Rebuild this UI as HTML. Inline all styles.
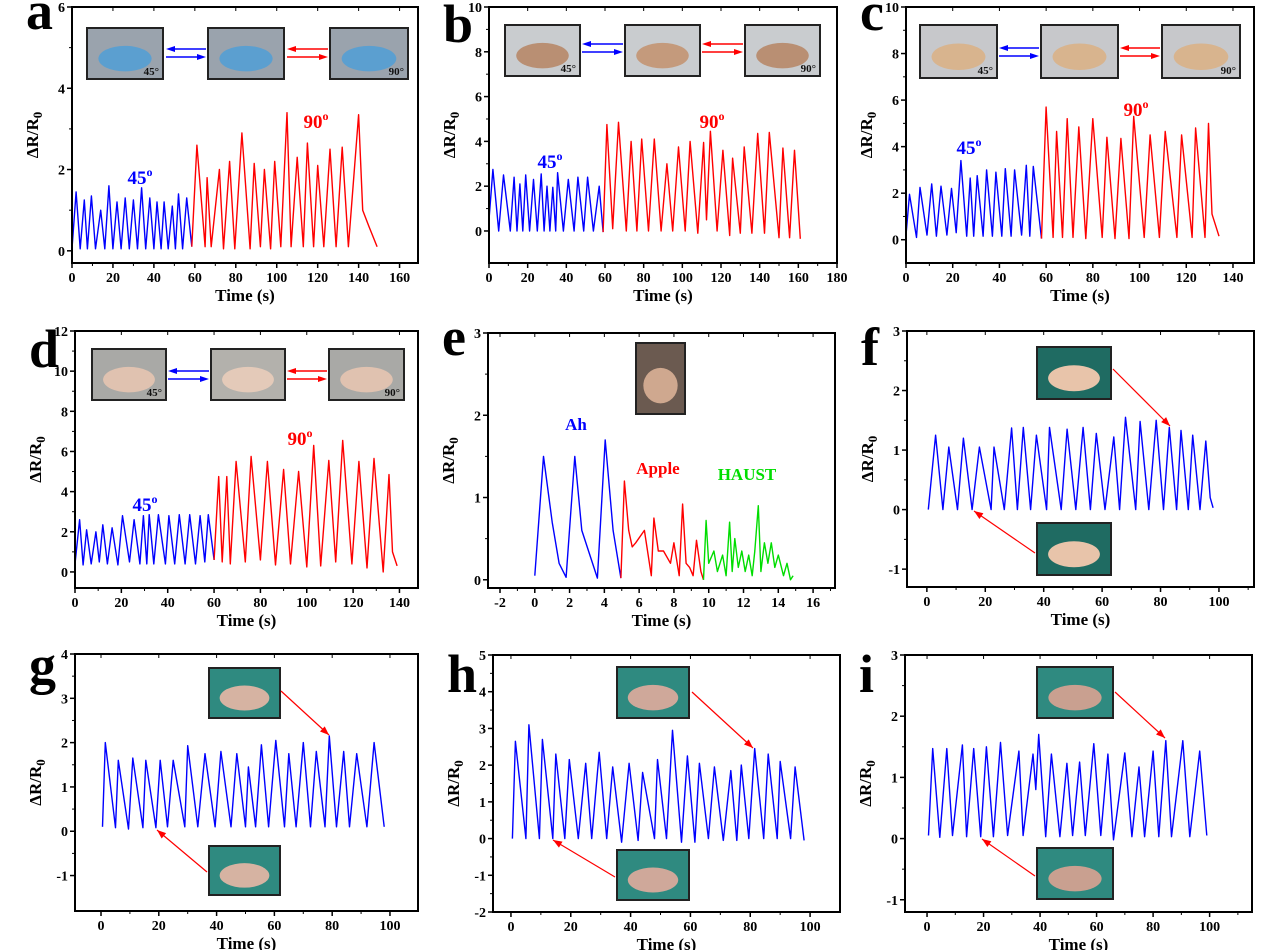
<!DOCTYPE html>
<html><head><meta charset="utf-8"><style>
html,body{margin:0;padding:0;background:#fff;}
svg{display:block;font-family:"Liberation Serif",serif;font-weight:bold;}
</style></head><body>
<svg id="fig" width="1269" height="950" viewBox="0 0 1269 950"></svg>
<script>
// ---- data arrays ----
const aBlueT=[0,2,4,6,7.5,9.5,11.5,14,16,18,20,22,24,26,28,30,32,34,36,38,40,41.5,43.5,45,47,49,50.5,52,54,56,58.5];
const aBlueV=[0.05,1.45,0.05,1.25,0.05,1.35,0.05,1.0,0.05,1.6,0.05,1.2,0.05,1.3,0.05,1.25,0.05,1.55,0.05,1.3,0.05,1.2,0.05,1.2,0.05,1.1,0.05,1.4,0.05,1.3,0.1];
const aRedT=[58.5,61,65,66,68,72,74,77,79.5,83,87,89,92,94,97,99,102,105,107,110,113,115,118,120,123,126,129,132,135,140,142,145,149];
const aRedV=[0.1,2.6,0.1,1.8,0.1,2.0,0.05,2.2,0.05,2.9,0.05,2.15,0.1,2.0,0.05,2.2,0.1,3.4,0.1,2.3,0.1,2.65,0.1,2.1,0.1,2.5,0.1,2.55,0.1,3.35,1.0,0.6,0.1];
const bBlueT=[0,2,5,7.5,11,13,14.5,16,17.5,19,21,23,25,27,28.5,30,31.5,33,34.5,35.5,38.5,41,44,46,49,51,54,57,59];
const bBlueV=[0.5,2.75,0,2.5,0,2.4,0,2.1,0,2.5,0,2.3,0,2.55,0,2.0,0,1.95,0,2.6,0,2.3,0,2.4,0,2.4,0,2.0,-0.05];
const bRedT=[59,61,64,67,71,73.5,76.5,79,82.5,85.5,89,92,95,98,101.5,104,108,111,112.5,114.5,118,121,124.5,126,130,132,136,139,142.5,145,150,152,155.5,158,161];
const bRedV=[-0.05,4.75,0.1,4.85,0,4.0,0,4.1,0,4.1,0,3.0,0,3.75,0,4.0,-0.1,3.95,0.5,4.45,0,3.6,-0.2,3.25,-0.1,3.75,-0.1,4.35,-0.1,4.4,-0.3,3.7,-0.3,3.6,-0.35];
const cBlueT=[0,1.5,4.5,6,9,11,13,15,17.5,19.5,21.5,23.5,26,27.5,29,30.5,33,34.5,37,38.5,41,42.5,45,46.5,49.5,51.5,53,54.5,58];
const cBlueV=[0.2,1.95,0.1,2.25,0.2,2.4,0.15,2.3,0.2,2.2,0.3,3.4,0.15,2.65,0.15,2.75,0.15,3.0,0.15,2.9,0.15,3.05,0.15,3.0,0.2,3.2,0.15,3.15,0.05];
const cRedT=[58,60,63,64.5,67,69,71.5,74,77,80,84,86,89.5,92,95.5,97.5,102,104.5,108.5,111,116,118,122.5,124,128,129.5,131,134];
const cRedV=[0.05,5.7,0.1,4.65,0.1,5.2,0.1,4.85,0.05,5.2,0.1,4.4,0.05,4.35,0.05,5.3,0.1,4.5,0.1,4.65,0.1,4.5,0.1,4.8,0.1,5.0,1.1,0.15];
const dBlueT=[0,2,3.5,5,7,9,10.5,12,14,16,18.5,20.5,23.5,25.5,28,29.5,31,32,34,36,39,40.5,43,45,47.5,49.5,52,54,56,57.5,60];
const dBlueV=[0.4,2.6,0.35,2.1,0.4,2.0,0.5,2.35,0.4,2.2,0.35,2.8,0.5,2.6,0.4,2.8,0.4,2.85,0.4,2.85,0.4,2.8,0.4,2.85,0.4,2.85,0.4,2.8,0.5,2.85,0.6];
const dRedT=[60,62,63.5,65.5,67,69.5,73.5,76,80,83,86.5,90,93,96.5,100,103,106,109.5,112.5,115.5,119.5,122.5,126,129,133,135.5,137,139];
const dRedV=[0.6,4.75,0.5,4.75,0.4,5.5,0.5,5.75,0.6,5.5,0.35,5.1,0.4,5.0,0.25,6.3,0.3,5.55,0.5,6.55,0.4,5.5,0.2,5.65,0.0,4.85,1.0,0.3];
const eAhT=[0,0.5,1.0,1.4,1.8,2.3,2.7,3.6,4.05,4.5,4.95];
const eAhV=[0.05,1.5,0.7,0.2,0.03,1.5,0.6,0.02,1.7,0.6,0.02];
const eAppleT=[4.95,5.15,5.4,5.6,5.8,6.3,6.7,6.85,7.1,7.4,7.8,8.0,8.3,8.5,8.7,8.9,9.1,9.3,9.55,9.7];
const eAppleV=[0.02,1.2,0.6,0.4,0.45,0.6,0.05,0.75,0.35,0.35,0.2,0.45,0.05,0.92,0.2,0.15,0.05,0.48,0.1,0.0];
const eHaustT=[9.7,9.85,10.0,10.3,10.5,10.8,11.0,11.2,11.35,11.5,11.7,11.9,12.1,12.3,12.5,12.65,12.85,13.0,13.2,13.4,13.6,13.8,14.0,14.3,14.5,14.7,14.85];
const eHaustV=[0.0,0.72,0.2,0.35,0.1,0.3,0.05,0.7,0.1,0.5,0.15,0.35,0.1,0.3,0.05,0.35,0.9,0.1,0.45,0.2,0.45,0.15,0.3,0.05,0.2,0.0,0.05];
const fT=[0.5,3,5.5,7.5,10.5,12.5,15.5,18,22,23,26.5,29,31,33,35.5,37.5,41,42,46,48,51,53.5,56,58,61,64,66,68,71.5,73,76,78.5,81,83,85.5,87,89.5,91,93.5,95.5,97,98];
const fV=[0,1.25,0,1.05,0,1.2,0,1.05,0,1.05,0,1.37,0,1.38,0,1.25,0,1.38,0,1.35,0,1.38,0,1.28,0,1.22,0,1.55,0,1.48,0,1.5,0,1.38,0,1.33,0,1.25,0,1.15,0.2,0.03];
const gT=[0.5,1.5,5,6,9.5,11,14.5,15.5,19,20.5,23,25,29,30,33.5,36,39.5,41.5,45,47,50,51,53.5,55.5,58,60.5,63.5,65,67.5,70,72.5,74.5,77.5,79,81.5,84,86,88.5,92,94.5,98];
const gV=[0.1,2.0,0.08,1.6,0.05,1.65,0.08,1.6,0.08,1.6,0.1,1.6,0.1,1.93,0.1,1.75,0.1,1.8,0.1,1.75,0.1,1.45,0.1,1.95,0.1,2.05,0.1,1.75,0.1,2.0,0.1,1.8,0.1,2.15,0.1,1.8,0.1,1.75,0.1,2.0,0.1];
const hT=[0.5,1.5,5,6,9.5,10.5,14,15,18,19.5,22.5,25,27,29.5,32,34,37,39.5,42.5,44,48,49,52,54,57,59,61.5,63,66,68,71,73.5,75.5,77,79.5,81.5,84.5,86,89,90,93.5,95,98];
const hV=[0,2.65,0,3.1,0,2.7,0,2.3,0,2.15,0,2.05,0,2.35,0,1.95,-0.1,2.05,-0.05,1.8,0,2.15,0,2.95,-0.1,2.25,-0.1,2.05,0,1.95,-0.05,1.85,-0.05,2.0,0,2.45,0,2.3,0,2.1,0,1.95,-0.05];
const iT=[0.5,2,4.5,7,9,12.5,14,16.5,19,21,23.5,26,28.5,32.5,34,37.5,38.5,39.5,42,44,47,49.5,51.5,54,56,59,61.5,64,66,70,72.5,75,77,80,82,84.5,86.5,90.5,93,96.5,99];
const iV=[0.05,1.47,0.02,1.47,0.05,1.53,0.03,1.47,0.03,1.5,0.03,1.57,0.05,1.43,0.05,1.38,0.8,1.7,0.03,1.38,0.03,1.23,0.05,1.25,0.05,1.55,0.05,1.38,-0.02,1.4,0.03,1.17,0.03,1.43,0.03,1.6,0.03,1.6,0.03,1.43,0.05];
const xTicksA=[0,20,40,60,80,100,120,140,160];
const xTicksB=[0,20,40,60,80,100,120,140,160,180];
const xTicksC=[0,20,40,60,80,100,120,140];
const xTicksE=[-2,0,2,4,6,8,10,12,14,16];
const xTicks100=[0,20,40,60,80,100];

const NS='http://www.w3.org/2000/svg';
const svg=document.getElementById('fig');
function el(tag,attrs,parent){const e=document.createElementNS(NS,tag);for(const k in attrs)e.setAttribute(k,attrs[k]);(parent||svg).appendChild(e);return e;}
function txt(s,attrs,parent){const e=el('text',attrs,parent);e.textContent=s;return e;}

const panels=[
 {id:'a',L:72,T:7,R:418,B:263,x0:0,x1:169,y0:-0.3,y1:6,xt:xTicksA,yt:[0,2,4,6],ym:1,xm:10,lb:22,
  series:[[aBlueT,aBlueV,'#0000ff'],[aRedT,aRedV,'#ff0000']]},
 {id:'b',L:489,T:7,R:837,B:263,x0:0,x1:180,y0:-1.43,y1:10,xt:xTicksB,yt:[0,2,4,6,8,10],ym:1,xm:10,lb:35,
  series:[[bBlueT,bBlueV,'#0000ff'],[bRedT,bRedV,'#ff0000']]},
 {id:'c',L:906,T:7,R:1254,B:263,x0:0,x1:149,y0:-1,y1:10,xt:xTicksC,yt:[0,2,4,6,8,10],ym:1,xm:10,lb:23,
  series:[[cBlueT,cBlueV,'#0000ff'],[cRedT,cRedV,'#ff0000']]},
 {id:'d',L:75,T:331,R:418,B:588,x0:0,x1:148,y0:-0.8,y1:12,xt:xTicksC,yt:[0,2,4,6,8,10,12],ym:1,xm:10,lb:36,
  series:[[dBlueT,dBlueV,'#0000ff'],[dRedT,dRedV,'#ff0000']]},
 {id:'e',L:488,T:333,R:835,B:588,x0:-2.69,x1:17.26,y0:-0.1,y1:3,xt:xTicksE,yt:[0,1,2,3],ym:0.5,xm:1,lb:22,
  series:[[eAhT,eAhV,'#0000ff'],[eAppleT,eAppleV,'#ff0000'],[eHaustT,eHaustV,'#00dd00']]},
 {id:'f',L:907,T:331,R:1254,B:587,x0:-6.8,x1:112,y0:-1.3,y1:3,xt:xTicks100,yt:[-1,0,1,2,3],ym:0.5,xm:10,lb:34,
  series:[[fT,fV,'#0000ff']]},
 {id:'g',L:75,T:654,R:418,B:911,x0:-9,x1:109.7,y0:-1.8,y1:4,xt:xTicks100,yt:[-1,0,1,2,3,4],ym:0.5,xm:10,lb:29,
  series:[[gT,gV,'#0000ff']]},
 {id:'h',L:493,T:655,R:840,B:912,x0:-6,x1:110,y0:-2,y1:5,xt:xTicks100,yt:[-2,-1,0,1,2,3,4,5],ym:0.5,xm:10,lb:37,
  series:[[hT,hV,'#0000ff']]},
 {id:'i',L:905,T:655,R:1252,B:912,x0:-7.8,x1:115,y0:-1.2,y1:3,xt:xTicks100,yt:[-1,0,1,2,3],ym:0.5,xm:10,lb:37,
  series:[[iT,iV,'#0000ff']]}
];

panels.forEach(p=>{
  const g=el('g',{});
  
  
  const sx=v=>p.L+(v-p.x0)/(p.x1-p.x0)*(p.R-p.L);
  const sy=v=>p.B-(v-p.y0)/(p.y1-p.y0)*(p.B-p.T);
  p.yt.forEach(v=>{
    const y=sy(v);
    el('line',{x1:p.L-5,x2:p.L,y1:y,y2:y,stroke:'#000','stroke-width':1.5},g);
    const t=txt(String(v),{x:p.L-7,y:y+5,'text-anchor':'end','font-size':14},g);
    
    
    const vm=v+p.ym;
    if(vm<p.y1){const ym=sy(vm);el('line',{x1:p.L-3,x2:p.L,y1:ym,y2:ym,stroke:'#000','stroke-width':1},g);}
  });
  p.xt.forEach(v=>{
    const x=sx(v);
    el('line',{x1:x,x2:x,y1:p.B,y2:p.B+5,stroke:'#000','stroke-width':1.5},g);
    el('line',{x1:x,x2:x,y1:p.T,y2:p.T+4,stroke:'#000','stroke-width':1},g);
    const t=txt(String(v),{x:x,y:p.B+19,'text-anchor':'middle','font-size':14},g);
    
    
    const vm=v+p.xm;
    if(vm<p.x1){const xm=sx(vm);el('line',{x1:xm,x2:xm,y1:p.B,y2:p.B+3,stroke:'#000','stroke-width':1},g);}
  });
  p.series.forEach(s=>{
    const pts=s[0].map((t,k)=>sx(t).toFixed(1)+','+sy(s[1][k]).toFixed(1)).join(' ');
    const pl=el('polyline',{points:pts,fill:'none',stroke:s[2],'stroke-width':1.4,'stroke-linejoin':'round'},g);
    
    
  });
  const fr=el('rect',{x:p.L,y:p.T,width:p.R-p.L,height:p.B-p.T,fill:'none',stroke:'#000','stroke-width':2},g);
  
  
  const xt=txt('Time (s)',{x:(p.L+p.R)/2,y:p.B+38,'text-anchor':'middle','font-size':17},g);
  
  
  const cy=(p.T+p.B)/2, cx=p.L-34;
  const yt=el('text',{x:cx,y:cy,'text-anchor':'middle','font-size':17,transform:'rotate(-90 '+cx+' '+cy+')'},g);
  
  
  yt.innerHTML='ΔR/R<tspan font-size="13" dy="4">0</tspan>';
  const lt=txt(p.id,{x:p.L-46,y:p.T+p.lb,'font-size':54},g);
  
  
});

function photo(x,y,w,h,bg,fg,label){
  const g=el('g',{});
  
  
  el('rect',{x:x,y:y,width:w,height:h,fill:bg,stroke:'#222','stroke-width':2},g);
  el('ellipse',{cx:x+w*0.5,cy:y+h*0.6,rx:w*0.35,ry:h*0.25,fill:fg},g);
  if(label){txt(label,{x:x+w-4,y:y+h-4,'text-anchor':'end','font-size':11,fill:'#111'},g);}
}
function arrowPair(x1,x2,y,col){
  const g=el('g',{});
  
  
  el('line',{x1:x1+7,y1:y-4,x2:x2,y2:y-4,stroke:col,'stroke-width':1.5},g);
  el('polygon',{points:`${x1},${y-4} ${x1+9},${y-7} ${x1+9},${y-1}`,fill:col},g);
  el('line',{x1:x1,y1:y+4,x2:x2-7,y2:y+4,stroke:col,'stroke-width':1.5},g);
  el('polygon',{points:`${x2},${y+4} ${x2-9},${y+1} ${x2-9},${y+7}`,fill:col},g);
}
function pointer(x1,y1,x2,y2){
  const g=el('g',{});
  
  
  el('line',{x1:x1,y1:y1,x2:x2,y2:y2,stroke:'#ff0000','stroke-width':1.2},g);
  const a=Math.atan2(y2-y1,x2-x1),L=9,W=3.5;
  const bx=x2-L*Math.cos(a),by=y2-L*Math.sin(a);
  el('polygon',{points:`${x2},${y2} ${bx-W*Math.sin(a)},${by+W*Math.cos(a)} ${bx+W*Math.sin(a)},${by-W*Math.cos(a)}`,fill:'#ff0000'},g);
}
photo(87,28,76,51,'#9aa3ad','#5b9fd0','45°');photo(208,28,76,51,'#9aa3ad','#5b9fd0','');photo(330,28,78,51,'#9aa3ad','#5b9fd0','90°');
arrowPair(166,206,53,'#0000ff');arrowPair(287,328,53,'#ff0000');
photo(505,25,75,51,'#c9cccf','#b98f73','45°');photo(625,25,75,51,'#c9cccf','#c49a7c','');photo(745,25,75,51,'#c9cccf','#b98f73','90°');
arrowPair(582,623,48,'#0000ff');arrowPair(702,743,48,'#ff0000');
photo(920,25,77,53,'#c7c8cb','#d8b48e','45°');photo(1041,25,77,53,'#c7c8cb','#d8b48e','');photo(1162,25,78,53,'#c7c8cb','#d8b48e','90°');
arrowPair(999,1039,52,'#0000ff');arrowPair(1120,1160,52,'#ff0000');
photo(92,349,74,51,'#a9a9a6','#e0c2b0','45°');photo(211,349,74,51,'#b3b1ac','#e4cab9','');photo(329,349,75,51,'#a9a9a6','#e0c2b0','90°');
arrowPair(168,209,375,'#0000ff');arrowPair(287,327,375,'#ff0000');
photo(636,343,49,71,'#6b5a50','#cfa88f','');
photo(1037,347,74,52,'#1f6b62','#e8c4aa','');photo(1037,523,74,52,'#1f6b62','#e8c4aa','');
pointer(1113,369,1170,426);pointer(1035,553,974,511);
photo(209,668,71,50,'#2f8a80','#d6b3a2','');photo(209,846,71,49,'#2f8a80','#d6b3a2','');
pointer(281,691,329,735);pointer(207,872,157,830);
photo(617,667,72,51,'#2f8a80','#cfa89a','');photo(617,850,72,50,'#2f8a80','#cfa89a','');
pointer(692,692,753,748);pointer(615,877,553,840);
photo(1037,667,76,51,'#2f8a80','#c9a090','');photo(1037,848,76,51,'#2f8a80','#c9a090','');
pointer(1115,692,1165,738);pointer(1035,876,982,839);

function note(s,x,y,col,size,name){
  const t=el('text',{x:x,y:y,fill:col,'font-size':size||19,'text-anchor':'middle'});
  
  
  t.innerHTML=s;
}
note('45<tspan font-size="12" dy="-8">o</tspan>',140,184,'#0000ff',19,'label-45deg');
note('90<tspan font-size="12" dy="-8">o</tspan>',316,128,'#ff0000',19,'label-90deg');
note('45<tspan font-size="12" dy="-8">o</tspan>',550,168,'#0000ff',19,'label-45deg');
note('90<tspan font-size="12" dy="-8">o</tspan>',712,128,'#ff0000',19,'label-90deg');
note('45<tspan font-size="12" dy="-8">o</tspan>',969,154,'#0000ff',19,'label-45deg');
note('90<tspan font-size="12" dy="-8">o</tspan>',1136,116,'#ff0000',19,'label-90deg');
note('45<tspan font-size="12" dy="-8">o</tspan>',145,511,'#0000ff',19,'label-45deg');
note('90<tspan font-size="12" dy="-8">o</tspan>',300,445,'#ff0000',19,'label-90deg');
note('Ah',576,430,'#0000ff',17,'label-ah');
note('Apple',658,474,'#ff0000',17,'label-apple');
note('HAUST',747,480,'#00dd00',17,'label-haust');
</script>
</body></html>
